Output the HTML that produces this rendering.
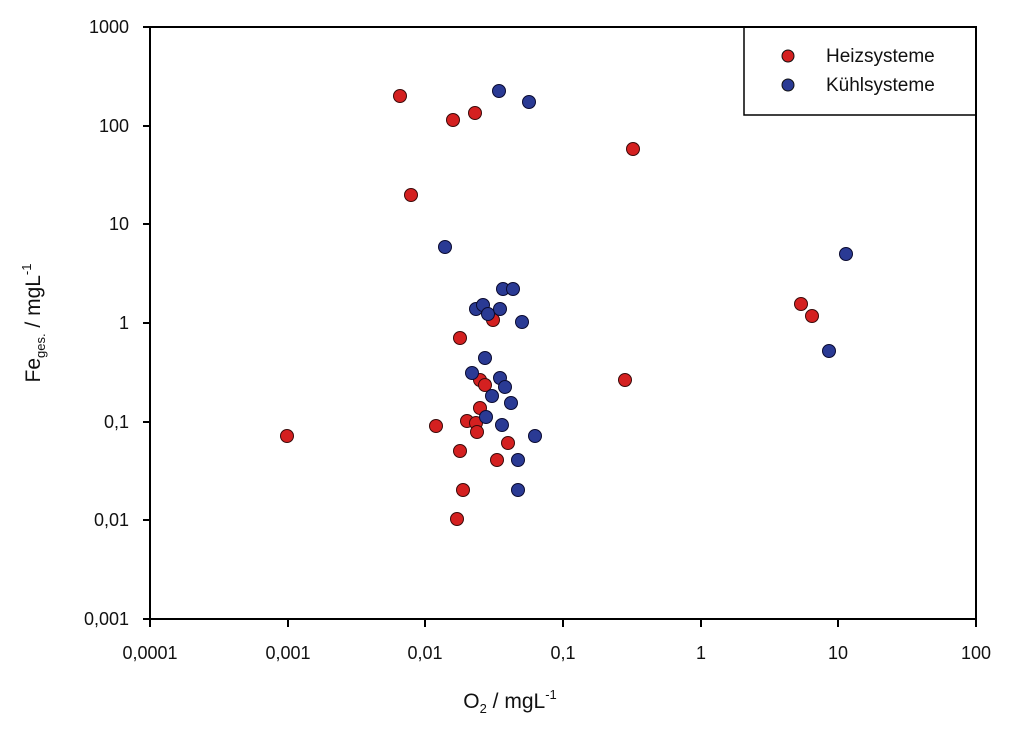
<!DOCTYPE html>
<html><head><meta charset="utf-8"><style>body{margin:0;background:#fff}svg{display:block}text{font-family:"Liberation Sans",Arial,sans-serif;fill:#111}</style></head><body>
<svg width="1024" height="735" viewBox="0 0 1024 735">
<g stroke="#000" stroke-width="2" fill="none">
<path d="M150 27 V619 H976"/>
<path d="M143 27 H976 V619"/>
<path d="M143 126H150M143 224H150M143 323H150M143 422H150M143 520H150M143 619H150"/>
<path d="M150 619V627M288 619V627M425 619V627M563 619V627M701 619V627M838 619V627M976 619V627"/>
<rect x="744" y="27" width="232" height="88" stroke-width="1.5"/>
</g>
<g font-size="18" text-anchor="end">
<text x="129" y="33">1000</text><text x="129" y="132">100</text><text x="129" y="230">10</text><text x="129" y="329">1</text><text x="129" y="428">0,1</text><text x="129" y="526">0,01</text><text x="129" y="625">0,001</text>
</g>
<g font-size="18" text-anchor="middle">
<text x="150" y="659">0,0001</text><text x="288" y="659">0,001</text><text x="425" y="659">0,01</text><text x="563" y="659">0,1</text><text x="701" y="659">1</text><text x="838" y="659">10</text><text x="976" y="659">100</text>
</g>
<text x="510" y="708" font-size="21" text-anchor="middle">O<tspan font-size="13" dy="5">2</tspan><tspan dy="-5"> / mgL</tspan><tspan font-size="13" dy="-9">-1</tspan></text>
<text transform="translate(40,323) rotate(-90)" font-size="21" text-anchor="middle">Fe<tspan font-size="13" dy="5">ges.</tspan><tspan dy="-5"> / mgL</tspan><tspan font-size="13" dy="-9">-1</tspan></text>
<g font-size="19"><text x="826" y="62">Heizsysteme</text><text x="826" y="91">Kühlsysteme</text></g>
<g stroke="#111" stroke-width="1">
<circle cx="788" cy="56" r="6" fill="#d42020"/><circle cx="788" cy="85" r="6" fill="#2a3a94"/>
</g>
<g fill="#d42020" stroke="#3a0a0a" stroke-width="1">
<circle cx="400" cy="96" r="6.5"/><circle cx="453" cy="120" r="6.5"/><circle cx="475" cy="113" r="6.5"/><circle cx="633" cy="149" r="6.5"/><circle cx="411" cy="195" r="6.5"/><circle cx="493" cy="320" r="6.5"/><circle cx="460" cy="338" r="6.5"/><circle cx="287" cy="436" r="6.5"/><circle cx="436" cy="426" r="6.5"/><circle cx="480" cy="380" r="6.5"/><circle cx="485" cy="385" r="6.5"/><circle cx="480" cy="408" r="6.5"/><circle cx="467" cy="421" r="6.5"/><circle cx="476" cy="423" r="6.5"/><circle cx="477" cy="432" r="6.5"/><circle cx="508" cy="443" r="6.5"/><circle cx="460" cy="451" r="6.5"/><circle cx="497" cy="460" r="6.5"/><circle cx="463" cy="490" r="6.5"/><circle cx="457" cy="519" r="6.5"/><circle cx="625" cy="380" r="6.5"/><circle cx="801" cy="304" r="6.5"/><circle cx="812" cy="316" r="6.5"/>
</g>
<g fill="#2a3a94" stroke="#0a0a30" stroke-width="1">
<circle cx="499" cy="91" r="6.5"/><circle cx="529" cy="102" r="6.5"/><circle cx="445" cy="247" r="6.5"/><circle cx="503" cy="289" r="6.5"/><circle cx="513" cy="289" r="6.5"/><circle cx="476" cy="309" r="6.5"/><circle cx="483" cy="305" r="6.5"/><circle cx="488" cy="314" r="6.5"/><circle cx="500" cy="309" r="6.5"/><circle cx="522" cy="322" r="6.5"/><circle cx="485" cy="358" r="6.5"/><circle cx="472" cy="373" r="6.5"/><circle cx="500" cy="378" r="6.5"/><circle cx="505" cy="387" r="6.5"/><circle cx="492" cy="396" r="6.5"/><circle cx="511" cy="403" r="6.5"/><circle cx="486" cy="417" r="6.5"/><circle cx="502" cy="425" r="6.5"/><circle cx="535" cy="436" r="6.5"/><circle cx="518" cy="460" r="6.5"/><circle cx="518" cy="490" r="6.5"/><circle cx="846" cy="254" r="6.5"/><circle cx="829" cy="351" r="6.5"/>
</g>
</svg>
</body></html>
